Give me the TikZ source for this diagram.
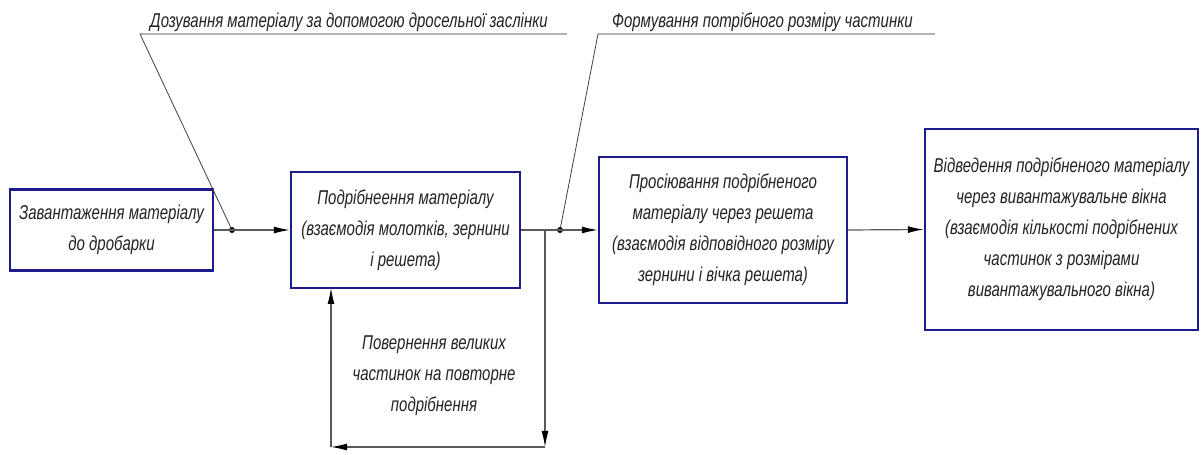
\documentclass[tikz,border=0pt]{standalone}
\usepackage{fontspec}
\newfontfamily\gost[FakeStretch=0.75]{Liberation Sans}
\usetikzlibrary{arrows.meta}
\definecolor{boxblue}{RGB}{28,28,140}
\definecolor{txt}{RGB}{35,35,35}
\tikzset{
  procbox/.style={draw=boxblue, line width=2.4pt, fill=white, align=center, inner sep=0pt,
    text=txt, font=\gost\itshape\fontsize{20}{31}\selectfont},
  flow/.style={draw=gray!70!black, line width=1.2pt, -{Latex[length=16pt,width=7pt,black]}},
  leader/.style={draw=black!75, line width=0.8pt},
  uline/.style={draw=gray!60, line width=2pt},
  lbl/.style={text=txt, font=\gost\itshape\fontsize{20}{31}\selectfont, inner sep=0pt, align=center},
  jdot/.style={circle, fill=black, inner sep=0pt, minimum size=6pt}
}
\begin{document}
\begin{tikzpicture}[x=1pt,y=1pt]
\useasboundingbox (0,0) rectangle (1202,455);
% boxes
\node[procbox, minimum width=203pt, minimum height=81pt] (b1) at (111.5,225)
  {Завантаження матеріалу\\до дробарки};
\node[procbox, minimum width=229pt, minimum height=116pt] (b2) at (405.5,225)
  {Подрібнеення матеріалу\\(взаємодія молотків, зернини\\і решета)};
\node[procbox, minimum width=248pt, minimum height=146pt] (b3) at (723,225)
  {Просіювання подрібненого\\матеріалу через решета\\(взаємодія відповідного розміру\\зернини і вічка решета)};
\node[procbox, minimum width=273pt, minimum height=201pt] (b4) at (1061.5,225.5)
  {Відведення подрібненого матеріалу\\через вивантажувальне вікна\\(взаємодія кількості подрібнених\\частинок з розмірами\\вивантажувального вікна)};
% junctions
\node[jdot] (d1) at (232,225) {};
\node[jdot] (d2) at (560,225) {};
\coordinate (br) at (545,225);
\coordinate (fbr) at (545,8);
\coordinate (fbl) at (331,8);
\coordinate (b2in) at (331,167);
% main flow
\draw[flow] (b1.east) -- (b2.west);
\draw[flow] (b2.east) -- (b3.west);
\draw[flow] (b3.east) -- (b4.west);
% feedback
\draw[flow] (br) -- (fbr);
\draw[flow] (fbr) -- (fbl);
\draw[flow] (fbl) -- (b2in);
\node[lbl] (fb) at (434,79) {Повернення великих\\частинок на повторне\\подрібнення};
% leader labels
\coordinate (u1a) at (140,421);
\coordinate (u1b) at (567,421);
\coordinate (u2a) at (598,421);
\coordinate (u2b) at (935,421);
\draw[uline] (u1a) -- (u1b);
\draw[uline] (u2a) -- (u2b);
\draw[leader] (u1a) -- (d1);
\draw[leader] (u2a) -- (d2);
\node[lbl, anchor=base west] (l1) at (150,427) {Дозування матеріалу за допомогою дросельної заслінки};
\node[lbl, anchor=base west] (l2) at (612,427) {Формування потрібного розміру частинки};
\end{tikzpicture}
\end{document}
